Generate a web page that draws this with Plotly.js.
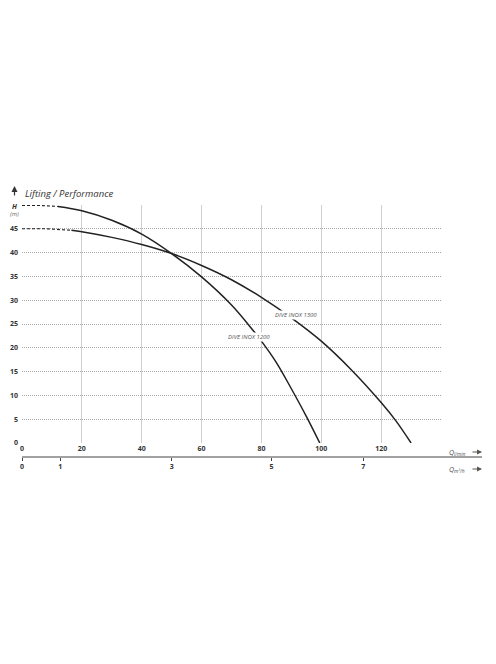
<!DOCTYPE html>
<html>
<head>
<meta charset="utf-8">
<script src="https://cdn.plot.ly/plotly-3.0.1.min.js"></script>
<style>html,body{margin:0;padding:0;background:#fff}#chart{width:496px;height:664px}</style>
</head>
<body>
<div id="chart"></div>
<script>
// ---- data ----
const curveNames = ['DIVE INOX 1200', 'DIVE INOX 1300'];
// DIVE INOX 1200 (flow l/min, head m)
const q1200Dash = [0, 6, 12];
const h1200Dash = [49.9, 49.9, 49.7];
const q1200 = [12, 20, 30, 40, 50, 60, 70, 76, 80, 85, 90, 95, 99.5];
const h1200 = [49.7, 48.8, 46.8, 43.9, 39.8, 34.9, 29.0, 24.6, 21.4, 16.9, 11.4, 5.6, 0];
// DIVE INOX 1300
const q1300Dash = [0, 8, 16.5];
const h1300Dash = [45.0, 45.0, 44.7];
const q1300 = [16.5, 20, 30, 40, 50, 60, 70, 80, 90, 100, 110, 120, 125, 130];
const h1300 = [44.7, 44.4, 43.2, 41.7, 39.8, 37.3, 34.3, 30.6, 26.3, 21.4, 15.4, 8.5, 4.6, 0];
// label anchor points on each curve
const labelQ = [75.7, 91.5];
const labelH = [22.2, 26.9];
// axes
const lminTicks = [0, 20, 40, 60, 80, 100, 120, 140];
const lminText = ['0', '20', '40', '60', '80', '100', '120', ''];
const hTicks = [0, 5, 10, 15, 20, 25, 30, 35, 40, 45, 50];
const hText = ['0', '5', '10', '15', '20', '25', '30', '35', '40', '45', ''];
const m3hText = ['0', '1', '3', '5', '7'];
const m3hPosLmin = [0, 12.8, 50, 83.4, 114];

// ---- layout geometry ----
const W = 496, H = 664;
const L = 22, R = 14, T = 205, B = 207;
const plotW = W - L - R;          // 460
const plotH = H - T - B;          // 252
const xRightPx = 441, yBottomPx = 443;
const xDomEnd = (xRightPx - L) / plotW;
const yDomStart = (H - B - yBottomPx) / plotH;

const lineCol = '#222';
const font = 'Open Sans, Noto Sans, sans-serif';

function px2paperX(p) { return (p - L) / plotW; }
function px2paperY(p) { return (H - B - p) / plotH; }

const traces = [
  {x: q1200Dash, y: h1200Dash, mode: 'lines', line: {color: lineCol, width: 1.1, dash: '3px,2px'}, hoverinfo: 'skip', showlegend: false},
  {x: q1200, y: h1200, mode: 'lines', line: {color: lineCol, width: 1.5, shape: 'spline', smoothing: 1}, name: curveNames[0], showlegend: false},
  {x: q1300Dash, y: h1300Dash, mode: 'lines', line: {color: lineCol, width: 1.1, dash: '3px,2px'}, hoverinfo: 'skip', showlegend: false},
  {x: q1300, y: h1300, mode: 'lines', line: {color: lineCol, width: 1.5, shape: 'spline', smoothing: 1}, name: curveNames[1], showlegend: false},
  {x: [0], y: [null], xaxis: 'x2', yaxis: 'y', mode: 'markers', showlegend: false, hoverinfo: 'skip'}
];

const tickFont = {family: font, size: 7, color: '#333', weight: 'bold'};

const annotations = [
  {xref: 'x', yref: 'y', x: labelQ[0], y: labelH[0], text: '<i>' + curveNames[0] + '</i>', showarrow: false,
   font: {family: font, size: 6, color: '#555'}, bgcolor: '#fff', borderpad: 0},
  {xref: 'x', yref: 'y', x: labelQ[1], y: labelH[1], text: '<i>' + curveNames[1] + '</i>', showarrow: false,
   font: {family: font, size: 6, color: '#555'}, bgcolor: '#fff', borderpad: 0},
  {xref: 'paper', yref: 'paper', x: px2paperX(14), y: px2paperY(206), text: '<b><i>H</i></b>', showarrow: false,
   font: {family: font, size: 7, color: '#333'}, xanchor: 'center', yanchor: 'middle'},
  {xref: 'paper', yref: 'paper', x: px2paperX(14), y: px2paperY(214), text: '<i>(m)</i>', showarrow: false,
   font: {family: font, size: 6, color: '#666'}, xanchor: 'center', yanchor: 'middle'},
  // y arrow
  {xref: 'paper', yref: 'paper', x: px2paperX(14.5), y: px2paperY(186), ax: 0, ay: 11, text: '', showarrow: true,
   arrowhead: 2, arrowsize: 1, arrowwidth: 1.2, arrowcolor: '#333'},
  // Q labels and arrows
  {xref: 'paper', yref: 'paper', x: px2paperX(457), y: px2paperY(452), text: '<i>Q<sub>l/min</sub></i>', showarrow: false,
   font: {family: font, size: 7, color: '#555'}, xanchor: 'center', yanchor: 'middle'},
  {xref: 'paper', yref: 'paper', x: px2paperX(482), y: px2paperY(452), ax: -11, ay: 0, text: '', showarrow: true,
   arrowhead: 2, arrowsize: 1, arrowwidth: 1, arrowcolor: '#555'},
  {xref: 'paper', yref: 'paper', x: px2paperX(457), y: px2paperY(469), text: '<i>Q<sub>m³/h</sub></i>', showarrow: false,
   font: {family: font, size: 7, color: '#555'}, xanchor: 'center', yanchor: 'middle'},
  {xref: 'paper', yref: 'paper', x: px2paperX(482), y: px2paperY(469), ax: -11, ay: 0, text: '', showarrow: true,
   arrowhead: 2, arrowsize: 1, arrowwidth: 1, arrowcolor: '#555'}
];

const shapes = [
  // baseline of the m³/h scale, extended to the arrow
  {type: 'line', xref: 'paper', yref: 'paper', x0: 0, x1: 1, y0: 0, y1: 0, line: {color: '#444', width: 1.2}}
];

const layout = {
  width: W, height: H,
  margin: {l: L, r: R, t: T, b: B, pad: 0},
  paper_bgcolor: '#fff', plot_bgcolor: 'rgba(0,0,0,0)',
  showlegend: false,
  title: {text: '<i>Lifting / Performance</i>', xref: 'paper', yref: 'container',
          x: px2paperX(25), y: 1 - 194 / H, xanchor: 'left', yanchor: 'middle',
          font: {family: font, size: 9.5, color: '#333'}},
  xaxis: {domain: [0, xDomEnd], range: [0, 140], anchor: 'y', tickvals: lminTicks, ticktext: lminText,
          showgrid: true, gridcolor: '#cfcfcf', gridwidth: 1, zeroline: false, showline: false,
          ticks: '', tickfont: tickFont, fixedrange: true},
  xaxis2: {overlaying: 'x', range: [0, 140], anchor: 'free', position: 0, side: 'bottom',
           tickvals: m3hPosLmin, ticktext: m3hText, showgrid: false, zeroline: false,
           showline: false, ticks: 'outside', ticklen: 3,
           tickcolor: '#444', tickwidth: 1, tickfont: tickFont, fixedrange: true},
  yaxis: {domain: [yDomStart, 1], range: [0, 50], anchor: 'x', tickvals: hTicks, ticktext: hText,
          showgrid: true, gridcolor: '#aaa', griddash: '1px,1px', gridwidth: 1, zeroline: false, showline: false,
          ticks: '', ticklabelstandoff: 3, tickfont: tickFont, fixedrange: true},
  shapes: shapes,
  annotations: annotations
};

Plotly.newPlot('chart', traces, layout, {displayModeBar: false, staticPlot: true});
</script>
</body>
</html>
